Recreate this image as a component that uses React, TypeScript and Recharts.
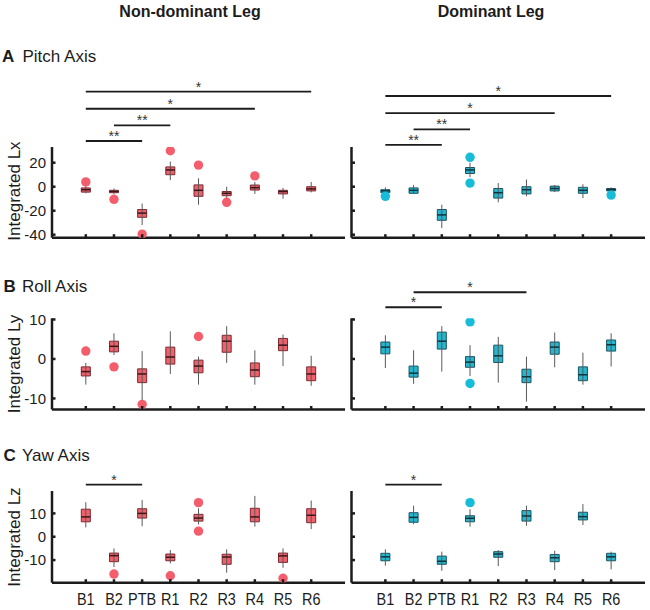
import { ComposedChart, XAxis, YAxis, Scatter, ReferenceArea, ReferenceLine } from 'recharts';

const FONT = '"Liberation Sans", Arial, Helvetica, sans-serif';
const INK = '#1c1c1c';

const CATS = ['B1', 'B2', 'PTB', 'R1', 'R2', 'R3', 'R4', 'R5', 'R6'];
const POS = [1, 2, 3, 4, 5, 6, 7, 8, 9];

// each box: [whisker low, q1, median, q3, whisker high]
const PITCH_ND = [
  [-5.5, -4.5, -2.5, -1, 1.5],
  [-6, -5, -4, -3, -1.5],
  [-32, -25.5, -22, -19, -14],
  [5.5, 10, 14, 16.5, 21],
  [-15, -8, -3, 1.5, 7],
  [-9.5, -7.5, -5.5, -4, 0],
  [-6, -2.8, -0.8, 1.4, 4],
  [-10, -6, -4, -3, -1],
  [-4.7, -3.5, -1.8, 0, 4],
];
const PITCH_ND_OUT = [[4], [-10.5], [-39.5], [30], [18], [-13], [9], [], []];

const PITCH_D = [
  [-5.5, -5, -3.5, -2.5, -0.5],
  [-6, -5.5, -3, -1, 1.5],
  [-34.5, -28, -23.5, -19, -15],
  [8, 11, 14, 16, 20],
  [-13, -9.5, -5, -1.5, 3],
  [-8, -6, -2.5, 0, 6],
  [-4.5, -3.5, -1.5, 0.5, 1.5],
  [-9.5, -5.5, -3, -0.5, 2],
  [-4, -3.5, -2.5, -1.5, -0.5],
];
const PITCH_D_OUT = [[-8], [], [], [24.5, 3], [], [], [], [], [-7]];

const ROLL_ND = [
  [-6.5, -4.3, -3.2, -2, -1],
  [1, 1.8, 3.2, 4.5, 6.5],
  [-10.5, -6, -3.8, -2.5, 2],
  [-3.8, -1.3, 0.5, 3, 7],
  [-6.5, -3.5, -1.8, -0.3, 0.6],
  [-1, 1.7, 4.5, 6, 8.3],
  [-6.5, -4.5, -2.8, -1, 2.2],
  [-1.8, 2.1, 3.5, 5.2, 6.2],
  [-6.8, -5.5, -3.8, -2, 0.8],
];
const ROLL_ND_OUT = [[2], [-2], [-11.5], [], [5.7], [], [], [], []];

const ROLL_D = [
  [-2.3, 1.3, 3, 4.3, 6],
  [-6.3, -4.6, -3.6, -1.8, 2.2],
  [-3.2, 2.5, 4.5, 6.8, 8.3],
  [-4.3, -2.1, -0.8, 0.6, 3.5],
  [-6, -0.9, 0.8, 3.5, 5.6],
  [-10.8, -6, -4.5, -2.6, 0.6],
  [-2.1, 1.2, 3, 4.3, 6.7],
  [-6.5, -5.5, -4, -2, 1.6],
  [-1.9, 2, 3.6, 4.8, 6.5],
];
const ROLL_D_OUT = [[], [], [], [9.4, -6.2], [], [], [], [], []];

const YAW_ND = [
  [4, 6.4, 8.5, 11.8, 14.8],
  [-13, -10.7, -8.1, -7, -5],
  [4.5, 8, 10, 12, 15.7],
  [-11.4, -10.3, -8.8, -7.4, -5.7],
  [5.3, 6.7, 8, 9.6, 12.2],
  [-15.4, -11.8, -8.7, -7.5, -5.4],
  [4.3, 6.4, 8.5, 12.2, 17.5],
  [-13.3, -11, -8.2, -7, -5],
  [3.3, 6, 9.2, 12, 15.5],
];
const YAW_ND_OUT = [[], [-16], [], [-16.7], [14.6, 2.4], [], [], [-17.8], []];

const YAW_D = [
  [-12.4, -10.3, -8.6, -7.1, -5.4],
  [5.4, 6.2, 8.3, 10.3, 13.3],
  [-14.6, -11.8, -10.5, -8.3, -6.4],
  [4.3, 6.4, 7.9, 9, 11.8],
  [-12.6, -8.8, -7.4, -6.4, -5.7],
  [4.7, 6.7, 8.9, 11.2, 13.3],
  [-14.3, -10.7, -9, -7.6, -6],
  [5, 7.2, 8.6, 10.5, 14],
  [-14, -10.3, -8.6, -7.1, -6.4],
];
const YAW_D_OUT = [[], [], [], [14.6], [], [], [], [], []];

// significance bars: [from, to, height, label]
const PITCH_ND_SIG = [[1, 9, 79.2, '*'], [1, 7, 65, '*'], [2, 4, 51.2, '**'], [1, 3, 38.1, '**']];
const PITCH_D_SIG = [[1, 9, 75.6, '*'], [1, 7, 61.4, '*'], [2, 4, 47.8, '**'], [1, 3, 34.8, '**']];
const ROLL_D_SIG = [[2, 6, 16.9, '*'], [1, 3, 13.1, '*']];
const YAW_ND_SIG = [[1, 3, 22.3, '*']];
const YAW_D_SIG = [[1, 3, 22.3, '*']];

const PITCH_TICKS = [-40, -20, 0, 20];
const ROLL_TICKS = [-10, 0, 10];
const YAW_TICKS = [-10, 0, 10];

const RED = { box: '#F0606B', edge: '#7d2a31', med: '#3b1518', dot: '#F45E6C' };
const CYAN = { box: '#25B5CE', edge: '#1c5560', med: '#0e343c', dot: '#17BCD9' };

const X_AXIS_H = 20;

function XTick({ x, y, payload, show }: any) {
  return (
    <g transform={`translate(${x},${y})`}>
      <line x1={0} x2={0} y1={0} y2={-3.5} stroke={INK} strokeWidth={2.5} />
      {show && (
        <text transform="scale(0.85,1)" y={22.5} textAnchor="middle" fontSize={17} fill={INK} fontFamily={FONT}>
          {CATS[payload.value - 1]}
        </text>
      )}
    </g>
  );
}

function YTick({ x, y, payload, show }: any) {
  return (
    <g>
      <line x1={x} x2={x + 3.5} y1={y} y2={y} stroke={INK} strokeWidth={2.5} />
      {show && (
        <text x={x - 6} y={y} dy="0.36em" textAnchor="end" fontSize={15} fill={INK} fontFamily={FONT}>
          {payload.value}
        </text>
      )}
    </g>
  );
}

function Panel({ left, top, height, plotTop, plotBottom, yw, domain, ticks, stats, outliers, sig, pal, yLabels, xLabels }: any) {
  const pts = outliers.flatMap((vals: number[], i: number) => vals.map((v) => ({ x: i + 1, y: v })));
  return (
    <div style={{ position: 'absolute', left, top }}>
      <ComposedChart
        width={350}
        height={height}
        margin={{ top: plotTop - top, right: 5, bottom: top + height - plotBottom - X_AXIS_H, left: 0 }}
      >
        <XAxis
          type="number"
          dataKey="x"
          domain={[-0.2, 10.2]}
          ticks={POS}
          interval={0}
          allowDataOverflow
          height={X_AXIS_H}
          tickSize={0}
          tickMargin={0}
          tickLine={false}
          axisLine={{ stroke: INK, strokeWidth: 2.5 }}
          tick={(p: any) => <XTick {...p} show={xLabels} />}
        />
        <YAxis
          type="number"
          dataKey="y"
          domain={domain}
          ticks={ticks}
          interval={0}
          allowDataOverflow
          width={yw}
          tickSize={0}
          tickMargin={0}
          tickLine={false}
          axisLine={{ stroke: INK, strokeWidth: 2.5 }}
          tick={(p: any) => <YTick {...p} show={yLabels} />}
        />
        {stats.map(([lo, , , , hi]: number[], i: number) => (
          <ReferenceLine
            key={'w' + i}
            segment={[{ x: i + 1, y: lo }, { x: i + 1, y: hi }]}
            stroke="#5a5a5a"
            strokeWidth={1}
            ifOverflow="visible"
          />
        ))}
        {stats.map(([, q1, , q3]: number[], i: number) => (
          <ReferenceArea
            key={'b' + i}
            x1={i + 1 - 0.16}
            x2={i + 1 + 0.16}
            y1={q1}
            y2={q3}
            fill={pal.box}
            fillOpacity={1}
            stroke={pal.edge}
            strokeWidth={1}
            ifOverflow="visible"
          />
        ))}
        {stats.map(([, , md]: number[], i: number) => (
          <ReferenceLine
            key={'m' + i}
            segment={[{ x: i + 1 - 0.16, y: md }, { x: i + 1 + 0.16, y: md }]}
            stroke={pal.med}
            strokeWidth={1.5}
            ifOverflow="visible"
          />
        ))}
        {sig.map(([a, b, h, s]: any[], i: number) => (
          <ReferenceLine
            key={'s' + i}
            segment={[{ x: a, y: h }, { x: b, y: h }]}
            stroke={INK}
            strokeWidth={1.8}
            ifOverflow="visible"
            label={{ value: s, position: 'top', offset: 0, fontSize: 14, fill: '#333', fontFamily: FONT }}
          />
        ))}
        <Scatter
          data={pts}
          isAnimationActive={false}
          shape={(p: any) => <circle cx={p.cx} cy={p.cy} r={4.7} fill={pal.dot} />}
        />
      </ComposedChart>
    </div>
  );
}

const ROWS = [
  { top: 70, height: 190, plotTop: 147, plotBottom: 237.7, domain: [-42.5, 33.1], ticks: PITCH_TICKS, nd: PITCH_ND, ndOut: PITCH_ND_OUT, ndSig: PITCH_ND_SIG, d: PITCH_D, dOut: PITCH_D_OUT, dSig: PITCH_D_SIG },
  { top: 270, height: 165, plotTop: 318.3, plotBottom: 409.5, domain: [-12.8, 10.3], ticks: ROLL_TICKS, nd: ROLL_ND, ndOut: ROLL_ND_OUT, ndSig: [], d: ROLL_D, dOut: ROLL_D_OUT, dSig: ROLL_D_SIG },
  { top: 460, height: 150, plotTop: 491, plotBottom: 582.7, domain: [-19.7, 19.6], ticks: YAW_TICKS, nd: YAW_ND, ndOut: YAW_ND_OUT, ndSig: YAW_ND_SIG, d: YAW_D, dOut: YAW_D_OUT, dSig: YAW_D_SIG },
];

const TXT = { fontFamily: FONT, fill: INK };

export default function App() {
  return (
    <div style={{ position: 'absolute', left: 0, top: 0, width: 650, height: 610, background: '#fff', overflow: 'hidden' }}>
      {ROWS.map((r, k) => (
        <div key={k}>
          <Panel
            left={0} top={r.top} height={r.height} plotTop={r.plotTop} plotBottom={r.plotBottom} yw={52}
            domain={r.domain} ticks={r.ticks} stats={r.nd} outliers={r.ndOut} sig={r.ndSig} pal={RED}
            yLabels xLabels={k === 2}
          />
          <Panel
            left={300} top={r.top} height={r.height} plotTop={r.plotTop} plotBottom={r.plotBottom} yw={51.5}
            domain={r.domain} ticks={r.ticks} stats={r.d} outliers={r.dOut} sig={r.dSig} pal={CYAN}
            yLabels={false} xLabels={k === 2}
          />
        </div>
      ))}
      <svg width={650} height={610} style={{ position: 'absolute', left: 0, top: 0, pointerEvents: 'none' }}>
        <text x={190} y={17} textAnchor="middle" fontSize={16} fontWeight="bold" {...TXT}>Non-dominant Leg</text>
        <text x={491} y={17} textAnchor="middle" fontSize={16} fontWeight="bold" {...TXT}>Dominant Leg</text>
        <text x={2} y={62} fontSize={17} fontWeight="bold" {...TXT}>A</text>
        <text x={22.5} y={62} fontSize={17} {...TXT}>Pitch Axis</text>
        <text x={3.5} y={292} fontSize={17} fontWeight="bold" {...TXT}>B</text>
        <text x={22} y={292} fontSize={17} {...TXT}>Roll Axis</text>
        <text x={3.5} y={461} fontSize={17} fontWeight="bold" {...TXT}>C</text>
        <text x={22} y={461} fontSize={17} {...TXT}>Yaw Axis</text>
        <text transform="translate(20,191) rotate(-90)" textAnchor="middle" fontSize={17} {...TXT}>Integrated Lx</text>
        <text transform="translate(20,364) rotate(-90)" textAnchor="middle" fontSize={17} {...TXT}>Integrated Ly</text>
        <text transform="translate(20,537) rotate(-90)" textAnchor="middle" fontSize={17} {...TXT}>Integrated Lz</text>
      </svg>
    </div>
  );
}
